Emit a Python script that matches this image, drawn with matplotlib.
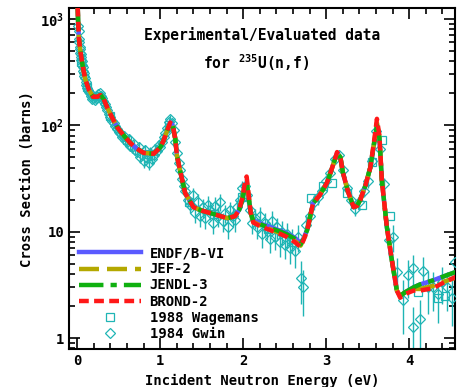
import matplotlib
matplotlib.use("Agg")
import matplotlib.pyplot as plt
from matplotlib.ticker import FixedLocator, FixedFormatter, MultipleLocator, LogLocator, NullFormatter
from matplotlib.lines import Line2D

plt.rcParams['font.family'] = 'DejaVu Sans Mono'
plt.rcParams['font.weight'] = 'bold'
plt.rcParams['mathtext.fontset'] = 'custom'
plt.rcParams['mathtext.rm'] = 'DejaVu Sans Mono:bold'

# evaluated cross sections (barns) vs energy (eV)
e_eval = [0.005, 0.01, 0.02, 0.036, 0.06, 0.096, 0.14, 0.19, 0.24, 0.28,
          0.32, 0.36, 0.42, 0.48, 0.56, 0.64, 0.72, 0.80, 0.92, 1.00,
          1.04, 1.08, 1.12, 1.15, 1.18, 1.20, 1.24, 1.30, 1.40, 1.50,
          1.60, 1.70, 1.81, 1.90, 1.95, 1.99, 2.02, 2.04, 2.06, 2.09,
          2.12, 2.20, 2.33, 2.45, 2.53, 2.62, 2.69, 2.73, 2.77, 2.84,
          2.92, 3.01, 3.08, 3.13, 3.17, 3.20, 3.26, 3.33, 3.37, 3.41,
          3.47, 3.53, 3.58, 3.61, 3.64, 3.67, 3.73, 3.79, 3.85, 3.89,
          3.95, 4.05, 4.13, 4.29, 4.37, 4.60]

brond = [1300, 930, 650, 505, 380, 270, 215, 185, 185, 192,
         175, 147, 118, 96, 80, 68, 60, 55, 54, 62,
         72, 88, 106, 100, 75, 52, 37, 23, 17, 15.8,
         15, 14.2, 13.4, 14, 16, 21, 29, 33, 24, 15,
         12.2, 11.3, 10.3, 9.5, 8.9, 8.0, 7.2, 8.5, 10.3, 18.5,
         22, 29, 42, 56, 50, 36, 24, 17, 17.5, 20,
         27, 40, 75, 115, 80, 30, 11, 5.4, 2.8, 2.4,
         2.6, 2.8, 2.8, 2.95, 3.2, 3.9]

endf = [1300, 930, 650, 505, 380, 270, 215, 185, 185, 192,
        175, 147, 118, 96, 80, 68, 60, 55, 54, 62,
        72, 88, 106, 100, 75, 52, 37, 23, 17, 15.8,
        15, 14.2, 13.4, 14, 16, 20, 26, 28, 22, 15,
        12.8, 12.0, 11.0, 10.2, 9.6, 8.8, 7.8, 8.8, 10.5, 18.5,
        22, 29, 42, 55, 50, 36, 24, 17, 17.5, 20,
        27, 40, 70, 95, 75, 30, 11, 5.4, 2.8, 2.5,
        2.7, 3.0, 3.2, 3.5, 3.7, 4.3]

jef = [1300, 930, 650, 505, 380, 270, 215, 185, 185, 192,
       175, 147, 118, 96, 80, 68, 60, 55, 54, 62,
       72, 88, 106, 100, 75, 52, 37, 23, 17, 15.8,
       15, 14.2, 13.4, 14, 16, 21, 28, 30, 23, 15,
       12.4, 11.5, 10.5, 9.7, 9.1, 8.2, 7.4, 8.6, 10.3, 18.5,
       22, 29, 42, 55, 50, 36, 24, 17, 17.5, 20,
       27, 40, 72, 105, 78, 30, 11, 5.4, 2.8, 2.5,
       2.7, 2.9, 2.9, 3.1, 3.3, 3.8]

jendl = [1300, 930, 650, 505, 380, 270, 215, 185, 185, 192,
         175, 147, 118, 96, 80, 68, 60, 55, 54, 62,
         72, 88, 106, 100, 75, 52, 37, 23, 17, 15.8,
         15, 14.2, 13.4, 14, 16, 20, 27, 29, 22, 15,
         12.6, 11.8, 10.8, 10.0, 9.4, 8.6, 7.6, 8.7, 10.4, 18.5,
         22, 29, 42, 55, 50, 36, 24, 17, 17.5, 20,
         27, 40, 71, 100, 76, 30, 11, 5.4, 2.8, 2.5,
         2.7, 3.0, 3.2, 3.5, 3.7, 4.3]

# 1984 Gwin measurement
gwin_e = [0.012, 0.016, 0.020, 0.024, 0.028, 0.032, 0.036, 0.040, 0.045, 0.050,
          0.055, 0.060, 0.066, 0.072, 0.078, 0.085, 0.092, 0.100, 0.110, 0.120,
          0.130, 0.140, 0.150, 0.165, 0.180, 0.195, 0.210, 0.225, 0.240, 0.255,
          0.270, 0.285, 0.300, 0.315, 0.330, 0.345, 0.360, 0.380, 0.400, 0.420,
          0.440, 0.460, 0.480, 0.500, 0.520, 0.540, 0.560, 0.580, 0.600, 0.620,
          0.640, 0.660, 0.680, 0.700, 0.720, 0.740, 0.760, 0.780, 0.800, 0.820,
          0.840, 0.860, 0.880, 0.900, 0.920, 0.940, 0.960, 0.980, 1.000, 1.020,
          1.040, 1.060, 1.080, 1.100, 1.120, 1.140, 1.160, 1.180, 1.200, 1.220,
          1.240, 1.260, 1.280, 1.300, 1.330, 1.360, 1.390, 1.420, 1.450, 1.480,
          1.510, 1.540, 1.570, 1.600, 1.630, 1.660, 1.690, 1.720, 1.750, 1.780,
          1.810, 1.840, 1.870, 1.900, 1.930, 1.960, 1.990, 2.020, 2.050, 2.080,
          2.110, 2.140, 2.170, 2.200, 2.230, 2.260, 2.290, 2.320, 2.350, 2.380,
          2.410, 2.440, 2.470, 2.500, 2.530, 2.560, 2.590, 2.620, 2.660, 2.700,
          2.720, 2.760, 2.800, 2.850, 2.900, 2.950, 3.000, 3.050, 3.100, 3.150,
          3.200, 3.250, 3.300, 3.350, 3.400, 3.450, 3.500, 3.550, 3.600, 3.650,
          3.700, 3.750, 3.800, 3.850, 3.920, 3.990, 4.040, 4.050, 4.130, 4.170,
          4.230, 4.290, 4.350, 4.400, 4.450, 4.520, 4.550]
gwin_xs = [850, 760, 640, 600, 540, 520, 480, 470, 440, 410,
           400, 370, 350, 320, 310, 290, 275, 255, 240, 225,
           215, 205, 200, 190, 178, 180, 172, 182, 186, 195,
           200, 190, 180, 168, 158, 150, 140, 128, 120, 110,
           105, 98, 92, 86, 84, 78, 80, 72, 70, 74,
           64, 62, 66, 58, 56, 62, 50, 53, 46, 58,
           49, 44, 55, 48, 52, 60, 57, 65, 63, 70,
           78, 85, 95, 108, 115, 104, 90, 70, 55, 44,
           38, 31, 27, 24, 20, 18, 22, 15, 19, 14,
           17, 13.5, 18, 16, 12, 17.5, 14, 19, 12.5, 15,
           11, 16, 14, 13, 17, 20, 26, 27, 22, 16,
           12, 13.5, 11, 14, 9.5, 12, 10.8, 8.5, 12.5, 9,
           11, 8, 10, 7.5, 9.5, 7, 8.5, 6.6, 9, 3.7,
           3.0, 11.5, 14, 19, 21, 24, 30, 36, 48, 52,
           38, 26, 20, 16.5, 19, 24, 30, 46, 88, 60,
           28, 8.3, 9, 4.2, 2.3, 3.9, 1.27, 4.6, 1.5, 4.3,
           3.0, 3.0, 2.6, 3.4, 3.0, 2.4, 5.2]
gwin_err = [50, 45, 38, 36, 32, 31, 29, 28, 26, 25,
            24, 22, 21, 19, 19, 17, 17, 15, 14, 14,
            13, 12, 12, 11, 11, 11, 10, 11, 11, 12,
            12, 11, 11, 10, 9, 9, 8, 8, 7, 7,
            7, 7, 7, 9, 9, 9, 9, 8, 8, 8,
            7, 7, 7, 6, 6, 7, 6, 6, 6, 7,
            6, 6, 7, 6, 6, 7, 7, 7, 7, 7,
            8, 8, 9, 10, 10, 10, 9, 7, 6, 5,
            4, 4, 3.5, 3.5, 3, 3, 4, 3, 3.5, 3,
            3.5, 3, 3.5, 3, 2.5, 3.5, 3, 3.5, 2.5, 3,
            2.5, 3, 3, 3, 3, 3.5, 4, 4, 3.5, 3,
            2.5, 3, 2.5, 3, 2.5, 3, 2.5, 2.2, 3, 2.2,
            2.5, 2.2, 2.5, 2, 2.5, 2, 2.2, 2, 2.5, 1.6,
            1.4, 2.5, 2.5, 3, 3, 3, 4, 4, 5, 5,
            4, 3, 3, 2.5, 3, 3, 4, 5, 8, 6,
            4, 2.5, 2.5, 1.5, 1.2, 1.5, 0.7, 1.5, 0.8, 1.5,
            1.3, 1.2, 1.2, 1.3, 1.2, 1.1, 1.5]

# 1988 Wagemans measurement
wag_e = [0.05, 0.12, 0.25, 0.40, 0.60, 0.85, 1.10, 1.35, 1.65, 1.98,
         2.30, 2.60, 2.81, 2.96, 3.07, 3.25, 3.43, 3.55, 3.67, 3.77,
         4.10, 4.34, 4.43]
wag_xs = [390, 230, 188, 122, 72, 54, 100, 19, 14.8, 21,
          10.5, 8.0, 20.6, 27, 28.6, 23, 17.7, 45, 72, 14,
          2.7, 2.4, 2.5]

cyan = '#1fb5b5'
c_endf, c_jef, c_jendl, c_brond = '#5a5aff', '#b4a800', '#10b010', '#ff1818'
d_jef, d_jendl, d_brond = (4.5, 1.8), (5.5, 1.6, 1.4, 1.6), (2.2, 1.2)

fig = plt.figure(figsize=(4.6, 3.87), dpi=100)
ax = fig.add_axes([0.150, 0.098, 0.839, 0.881])

ax.errorbar(gwin_e, gwin_xs, yerr=gwin_err, fmt='none', ecolor=cyan,
            elinewidth=1, capsize=0, zorder=2)
ax.plot(gwin_e, gwin_xs, linestyle='none', marker='D', markersize=5,
        markerfacecolor='none', markeredgecolor=cyan, markeredgewidth=0.9, zorder=3)
ax.plot(wag_e, wag_xs, linestyle='none', marker='s', markersize=5.5,
        markerfacecolor='none', markeredgecolor=cyan, markeredgewidth=0.9, zorder=3)

lw = 3.2
ax.plot(e_eval, endf, color=c_endf, lw=lw, zorder=4)
ax.plot(e_eval, jef, color=c_jef, lw=lw, dashes=d_jef, zorder=5)
ax.plot(e_eval, jendl, color=c_jendl, lw=lw, dashes=d_jendl, zorder=6)
ax.plot(e_eval, brond, color=c_brond, lw=lw, dashes=d_brond, zorder=7)

ax.set_yscale('log')
ax.set_xlim(-0.1, 4.55)
ax.set_ylim(0.79, 1260)

ax.xaxis.set_major_locator(MultipleLocator(1))
ax.xaxis.set_minor_locator(MultipleLocator(0.2))
ax.yaxis.set_major_locator(FixedLocator([1, 10, 100, 1000]))
ax.yaxis.set_major_formatter(FixedFormatter(['1', '10', '10$^2$', '10$^3$']))
ax.yaxis.set_minor_locator(LogLocator(base=10, subs=range(2, 10)))
ax.yaxis.set_minor_formatter(NullFormatter())

ax.tick_params(which='both', direction='in', top=True, right=True, width=1.2)
ax.tick_params(which='major', length=8, labelsize=10)
ax.tick_params(which='minor', length=4)
for s in ax.spines.values():
    s.set_linewidth(1.5)

ax.set_xlabel('Incident Neutron Energy (eV)', fontsize=10, fontweight='bold')
ax.set_ylabel('Cross Section (barns)', fontsize=10, fontweight='bold')

ax.text(0.50, 0.92, 'Experimental/Evaluated data', transform=ax.transAxes,
        ha='center', va='center', fontsize=10.5, fontweight='bold')
ax.text(0.485, 0.84, 'for $^{235}$U(n,f)', transform=ax.transAxes,
        ha='center', va='center', fontsize=10.5, fontweight='bold')

handles = [
    Line2D([], [], color=c_endf, lw=lw),
    Line2D([], [], color=c_jef, lw=lw, dashes=d_jef),
    Line2D([], [], color=c_jendl, lw=lw, dashes=d_jendl),
    Line2D([], [], color=c_brond, lw=lw, dashes=d_brond),
    Line2D([], [], linestyle='none', marker='s', markersize=5.5, markerfacecolor='none',
           markeredgecolor=cyan, markeredgewidth=0.9),
    Line2D([], [], linestyle='none', marker='D', markersize=5, markerfacecolor='none',
           markeredgecolor=cyan, markeredgewidth=0.9),
]
labels = ['ENDF/B-VI', 'JEF-2', 'JENDL-3', 'BROND-2', '1988 Wagemans', '1984 Gwin']
ax.legend(handles, labels, loc='upper left', bbox_to_anchor=(0.0, 0.33),
          frameon=False, fontsize=10, handlelength=4.5, handletextpad=0.6,
          labelspacing=0.15, borderaxespad=0.3)

fig.savefig('out.png', dpi=100)
